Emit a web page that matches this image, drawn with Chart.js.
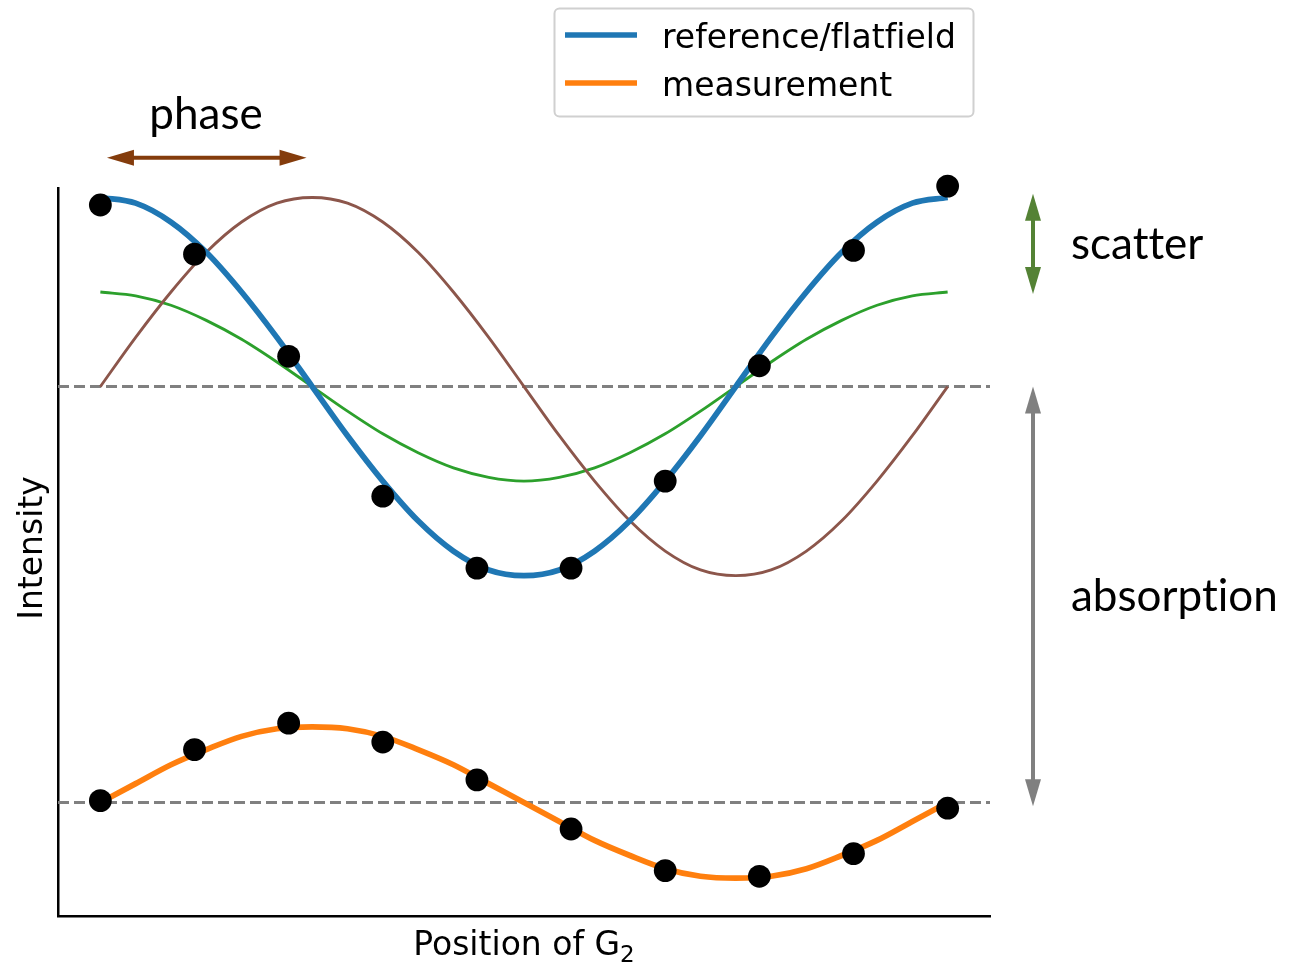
<!DOCTYPE html>
<html>
<head>
<meta charset="utf-8">
<script src="https://cdn.jsdelivr.net/npm/chart.js@4"></script>
<style>
  body { margin: 0; background: #fff; }
  #wrap { width: 1290px; height: 963px; }
</style>
</head>
<body>
<div id="wrap"><canvas id="myChart" width="1290" height="963"></canvas></div>
<script>
// sample positions of the smooth curves (one grating period = 9 steps)
const curveX = [0, 0.375, 0.75, 1.125, 1.5, 1.875, 2.25, 2.625, 3, 3.375, 3.75, 4.125, 4.5,
                4.875, 5.25, 5.625, 6, 6.375, 6.75, 7.125, 7.5, 7.875, 8.25, 8.625, 9];
const referenceCurve = [4.00, 3.97, 3.87, 3.71, 3.50, 3.26, 3.00, 2.74, 2.50, 2.29, 2.13, 2.03, 2.00,
                        2.03, 2.13, 2.29, 2.50, 2.74, 3.00, 3.26, 3.50, 3.71, 3.87, 3.97, 4.00];
const scatterCurve = [3.50, 3.48, 3.43, 3.35, 3.25, 3.13, 3.00, 2.87, 2.75, 2.65, 2.57, 2.52, 2.50,
                      2.52, 2.57, 2.65, 2.75, 2.87, 3.00, 3.13, 3.25, 3.35, 3.43, 3.48, 3.50];
const phaseCurve = [3.00, 3.26, 3.50, 3.71, 3.87, 3.97, 4.00, 3.97, 3.87, 3.71, 3.50, 3.26, 3.00,
                    2.74, 2.50, 2.29, 2.13, 2.03, 2.00, 2.03, 2.13, 2.29, 2.50, 2.74, 3.00];
const measurementCurve = [0.80, 0.90, 1.00, 1.08, 1.15, 1.19, 1.20, 1.19, 1.15, 1.08, 1.00, 0.90, 0.80,
                          0.70, 0.60, 0.52, 0.45, 0.41, 0.40, 0.41, 0.45, 0.52, 0.60, 0.70, 0.80];

// measured intensities at each G2 step
const steps = [0, 1, 2, 3, 4, 5, 6, 7, 8, 9];
const referencePoints = [3.96, 3.70, 3.16, 2.42, 2.04, 2.04, 2.50, 3.11, 3.72, 4.06];
const measurementPoints = [0.81, 1.08, 1.22, 1.12, 0.92, 0.66, 0.44, 0.41, 0.53, 0.77];

// mean levels (dashed lines)
const meanLevels = [3.0, 0.8];

const xRange = [-0.45, 9.45];
const yRange = [0.2, 4.05];

const legendLabels = ['reference/flatfield', 'measurement'];
const legendColors = ['#1f77b4', '#ff7f0e'];

const toXY = (xs, ys) => xs.map((x, i) => ({ x: x, y: ys[i] }));

const curve = (data, color, width, order) => ({
    data: toXY(curveX, data),
    showLine: true,
    borderColor: color,
    borderWidth: width,
    pointRadius: 0,
    cubicInterpolationMode: 'monotone',
    clip: false,
    order: order
});

const dots = (data) => ({
    data: toXY(steps, data),
    showLine: false,
    pointRadius: 11.4,
    pointBackgroundColor: '#000',
    pointBorderWidth: 0,
    clip: false,
    order: 0
});

const meanLine = (level) => ({
    data: [{ x: xRange[0], y: level }, { x: xRange[1], y: level }],
    showLine: true,
    borderColor: '#808080',
    borderWidth: 3,
    borderDash: [11, 5],
    pointRadius: 0,
    clip: false,
    order: 4
});

const drawArrow = (ctx, x1, y1, x2, y2, color) => {
    const len = Math.hypot(x2 - x1, y2 - y1);
    const ux = (x2 - x1) / len, uy = (y2 - y1) / len;
    const head = 27, half = 8;
    ctx.save();
    ctx.strokeStyle = color;
    ctx.fillStyle = color;
    ctx.lineWidth = 4;
    ctx.beginPath();
    ctx.moveTo(x1 + ux * head * 0.8, y1 + uy * head * 0.8);
    ctx.lineTo(x2 - ux * head * 0.8, y2 - uy * head * 0.8);
    ctx.stroke();
    [[x1, y1, -1], [x2, y2, 1]].forEach(([tx, ty, s]) => {
        const bx = tx - s * ux * head, by = ty - s * uy * head;
        ctx.beginPath();
        ctx.moveTo(tx, ty);
        ctx.lineTo(bx - uy * half, by + ux * half);
        ctx.lineTo(bx + uy * half, by - ux * half);
        ctx.closePath();
        ctx.fill();
    });
    ctx.restore();
}

const annotations = {
    id: 'annotations',
    afterDraw(chart) {
        const { ctx, chartArea } = chart;
        const xs = chart.scales.x, ys = chart.scales.y;
        ctx.save();
        ctx.textRendering = 'optimizeSpeed'; // no ligatures

        // axis labels
        ctx.fillStyle = '#000';
        ctx.font = '33px "DejaVu Sans"';
        ctx.textBaseline = 'alphabetic';
        ctx.save();
        ctx.translate(42, (chartArea.top + chartArea.bottom) / 2 - 4);
        ctx.rotate(-Math.PI / 2);
        ctx.textAlign = 'center';
        ctx.fillText('Intensity', 0, 0);
        ctx.restore();

        const main = 'Position of G';
        ctx.font = '33px "DejaVu Sans"';
        const w1 = ctx.measureText(main).width;
        ctx.font = '23px "DejaVu Sans"';
        const w2 = ctx.measureText('2').width;
        const startX = (chartArea.left + chartArea.right) / 2 - (w1 + w2) / 2;
        ctx.textAlign = 'left';
        ctx.font = '33px "DejaVu Sans"';
        ctx.fillText(main, startX, 955);
        ctx.font = '23px "DejaVu Sans"';
        ctx.fillText('2', startX + w1, 962);

        // legend
        ctx.beginPath();
        ctx.roundRect(554.5, 8.5, 419, 108, 5);
        ctx.fillStyle = 'rgba(255,255,255,0.8)';
        ctx.fill();
        ctx.strokeStyle = '#d0d0d0';
        ctx.lineWidth = 2;
        ctx.stroke();
        legendLabels.forEach((label, i) => {
            const y = 35 + i * 48;
            ctx.strokeStyle = legendColors[i];
            ctx.lineWidth = 5.7;
            ctx.beginPath();
            ctx.moveTo(565, y);
            ctx.lineTo(637, y);
            ctx.stroke();
            ctx.fillStyle = '#000';
            ctx.font = '33px "DejaVu Sans"';
            ctx.fillText(label, 662, y + 13);
        });

        // arrows
        const arrowX = 1033;
        drawArrow(ctx, xs.getPixelForValue(0.07), ys.getPixelForValue(4.21),
                  xs.getPixelForValue(2.19), ys.getPixelForValue(4.21), '#843C0C');
        drawArrow(ctx, arrowX, ys.getPixelForValue(4.02), arrowX, ys.getPixelForValue(3.49), '#548235');
        drawArrow(ctx, arrowX, ys.getPixelForValue(meanLevels[0]), arrowX, ys.getPixelForValue(0.78), '#808080');

        // callout text
        ctx.fillStyle = '#000';
        ctx.font = '44px Lato';
        ctx.textAlign = 'center';
        ctx.fillText('phase', 206, 129);
        ctx.textAlign = 'left';
        ctx.fillText('scatter', 1071, 259);
        ctx.fillText('absorption', 1071, 611);
        ctx.restore();
    }
};

const config = {
    type: 'scatter',
    data: {
        datasets: [
            meanLine(meanLevels[0]),
            meanLine(meanLevels[1]),
            curve(phaseCurve, '#8c564b', 2.85, 3),
            curve(scatterCurve, '#2ca02c', 2.85, 3),
            curve(referenceCurve, '#1f77b4', 5.7, 2),
            curve(measurementCurve, '#ff7f0e', 5.7, 2),
            dots(referencePoints),
            dots(measurementPoints)
        ]
    },
    options: {
        responsive: false,
        animation: false,
        devicePixelRatio: 1,
        layout: { padding: { left: 58, right: 300, top: 188, bottom: 47 } },
        plugins: { legend: { display: false }, tooltip: { enabled: false } },
        scales: {
            x: {
                type: 'linear', min: xRange[0], max: xRange[1],
                ticks: { display: false },
                grid: { display: false, drawTicks: false },
                border: { display: true, color: '#000', width: 2.5 }
            },
            y: {
                type: 'linear', min: yRange[0], max: yRange[1],
                ticks: { display: false },
                grid: { display: false, drawTicks: false },
                border: { display: true, color: '#000', width: 2.5 }
            }
        }
    },
    plugins: [annotations]
};

new Chart(document.getElementById('myChart'), config);
</script>
</body>
</html>
